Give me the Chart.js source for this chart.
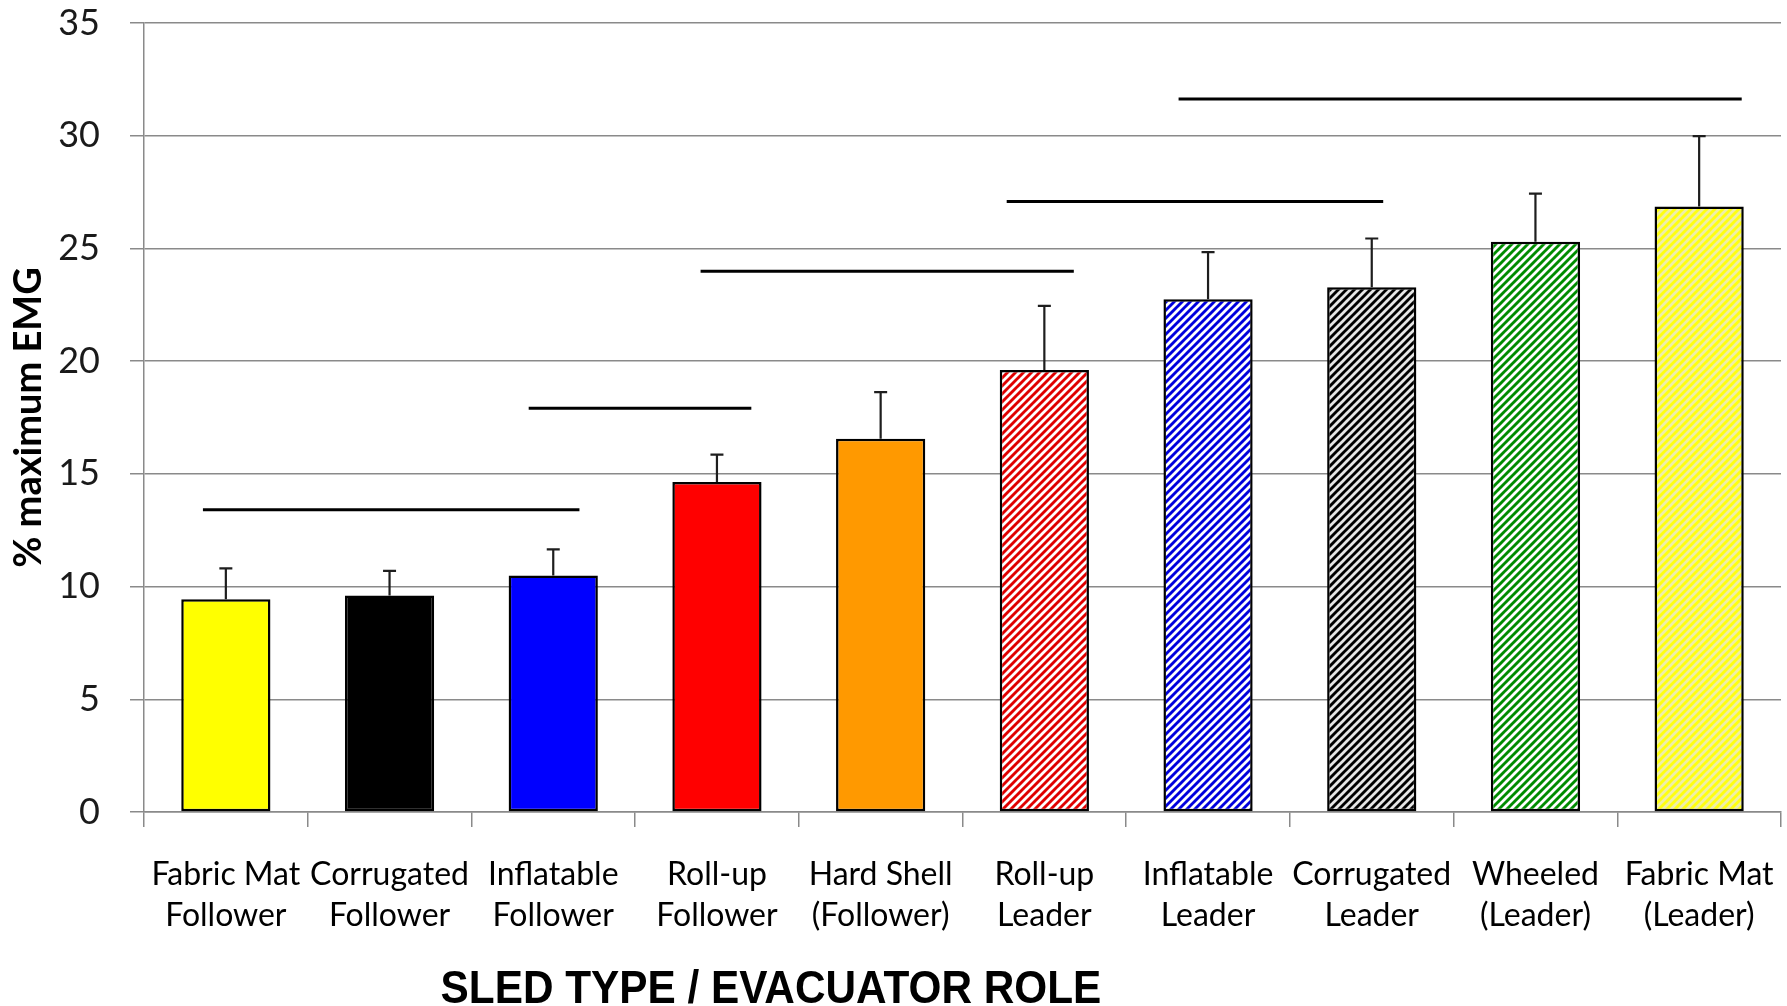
<!DOCTYPE html>
<html>
<head>
<meta charset="utf-8">
<script src="https://cdn.jsdelivr.net/npm/chart.js@4.4.1/dist/chart.umd.min.js"></script>
<style>
  html, body { margin: 0; padding: 0; background: #ffffff; }
  #wrap { width: 1787px; height: 1006px; position: relative; }
</style>
</head>
<body>
<div id="wrap"><canvas id="chart" width="1787" height="1006"></canvas></div>
<script>
// Sled type / evacuator role categories (two-line tick labels)
const categories = [
  ['Fabric Mat', 'Follower'],
  ['Corrugated', 'Follower'],
  ['Inflatable', 'Follower'],
  ['Roll-up', 'Follower'],
  ['Hard Shell', '(Follower)'],
  ['Roll-up', 'Leader'],
  ['Inflatable', 'Leader'],
  ['Corrugated', 'Leader'],
  ['Wheeled', '(Leader)'],
  ['Fabric Mat', '(Leader)']
];

// Mean % maximum EMG and its standard deviation (upper error bar)
const meanEMG = [9.44, 9.60, 10.49, 14.64, 16.56, 19.61, 22.75, 23.28, 25.30, 26.86];
const sdEMG   = [1.37, 1.10, 1.16, 1.21, 2.07, 2.84, 2.09, 2.16, 2.13, 3.12];

// Bar colours; leader bars are hatched
const baseColors   = ['#ffff00', '#000000', '#0000ff', '#ff0000', '#ff9900',
                      '#e00000', '#0000dd', '#000000', '#008c00', '#ffff10'];
const stripeColors = [null, null, null, null, null,
                      '#ffffff', '#ffffff', '#e6e6e6', '#ffffff', '#eeeeaa'];

// Y-axis ticks
const yTicks = [0, 5, 10, 15, 20, 25, 30, 35];

// Groups with no significant difference: start/end in category-index units, height in % EMG
const groupStart = [-0.14, 1.85, 2.90, 4.77, 5.82];
const groupEnd   = [2.16, 3.21, 5.18, 7.07, 9.26];
const groupLevel = [13.41, 17.91, 23.99, 27.08, 31.63];

function hatch(base, stripe) {
  if (!stripe) return base;
  const s = 8;
  const c = document.createElement('canvas');
  c.width = s; c.height = s;
  const g = c.getContext('2d');
  g.fillStyle = base;
  g.fillRect(0, 0, s, s);
  g.strokeStyle = stripe;
  g.lineWidth = 2.8;
  g.lineCap = 'square';
  g.beginPath();
  g.moveTo(-2, s + 2); g.lineTo(s + 2, -2);
  g.moveTo(-2, 2); g.lineTo(2, -2);
  g.moveTo(s - 2, s + 2); g.lineTo(s + 2, s - 2);
  g.stroke();
  return g.createPattern(c, 'repeat');
}

const fills = baseColors.map((b, i) => hatch(b, stripeColors[i]));

const errorBars = {
  id: 'errorBars',
  afterDatasetsDraw(chart) {
    const ctx = chart.ctx;
    const meta = chart.getDatasetMeta(0);
    const y = chart.scales.y;
    ctx.save();
    ctx.strokeStyle = '#1e1e1e';
    ctx.lineWidth = 2.2;
    meta.data.forEach((bar, i) => {
      const top = y.getPixelForValue(meanEMG[i]);
      const up = y.getPixelForValue(meanEMG[i] + sdEMG[i]);
      ctx.beginPath();
      ctx.moveTo(bar.x, top);
      ctx.lineTo(bar.x, up);
      ctx.moveTo(bar.x - 6.5, up);
      ctx.lineTo(bar.x + 6.5, up);
      ctx.stroke();
    });
    ctx.restore();
  }
};

const groupLines = {
  id: 'groupLines',
  afterDatasetsDraw(chart) {
    const ctx = chart.ctx;
    const x = chart.scales.x, y = chart.scales.y;
    const x0 = x.getPixelForValue(0), step = x.getPixelForValue(1) - x0;
    ctx.save();
    ctx.strokeStyle = '#000000';
    ctx.lineWidth = 3;
    groupLevel.forEach((lv, i) => {
      const py = y.getPixelForValue(lv);
      ctx.beginPath();
      ctx.moveTo(x0 + groupStart[i] * step, py);
      ctx.lineTo(x0 + groupEnd[i] * step, py);
      ctx.stroke();
    });
    ctx.restore();
  }
};

const axisTitle = {
  id: 'axisTitle',
  afterDraw(chart) {
    const ctx = chart.ctx;
    const a = chart.chartArea;
    const cx = a.left + 0.383 * (a.right - a.left);
    ctx.save();
    ctx.fillStyle = '#000000';
    ctx.font = 'bold 46px "Liberation Sans", Arial, sans-serif';
    ctx.textAlign = 'center';
    ctx.textBaseline = 'middle';
    ctx.translate(cx, chart.height - 16);
    ctx.scale(0.92, 1);
    ctx.fillText('SLED TYPE / EVACUATOR ROLE', 0, 0);
    ctx.restore();
  }
};

new Chart(document.getElementById('chart'), {
  type: 'bar',
  data: {
    labels: categories,
    datasets: [{
      data: meanEMG,
      backgroundColor: fills,
      borderColor: '#000000',
      borderWidth: 2.5,
      borderSkipped: false,
      barPercentage: 0.545,
      categoryPercentage: 1.0
    }]
  },
  options: {
    responsive: false,
    animation: false,
    layout: { padding: { top: 23, right: 6, left: 0, bottom: 0 } },
    plugins: {
      legend: { display: false },
      tooltip: { enabled: false }
    },
    scales: {
      x: {
        offset: true,
        grid: {
          offset: true,
          drawOnChartArea: false,
          drawTicks: true,
          tickLength: 15,
          color: '#8a8a8a',
          lineWidth: 1.5
        },
        border: { color: '#8a8a8a', width: 1.5 },
        ticks: {
          color: '#000000',
          padding: 27,
          maxRotation: 0,
          autoSkip: false,
          font: { family: 'Lato', size: 32, lineHeight: 1.28 }
        },
        afterFit(scale) {
          scale.height = 194;
          scale.paddingLeft = 0;
          scale.paddingRight = 0;
        }
      },
      y: {
        min: 0,
        max: 35,
        afterBuildTicks(scale) { scale.ticks = yTicks.map(v => ({ value: v })); },
        grid: {
          color: '#8a8a8a',
          lineWidth: 1.5,
          drawTicks: true,
          tickLength: 14
        },
        border: { color: '#8a8a8a', width: 1.5 },
        ticks: {
          color: '#1a1a1a',
          padding: 30,
          font: { family: 'Lato', size: 36 }
        },
        title: {
          display: true,
          text: '% maximum EMG',
          color: '#000000',
          padding: { top: 6, bottom: 0 },
          font: { family: 'Lato', size: 38, weight: 'bold', lineHeight: 1.2 }
        },
        afterFit(scale) {
          scale.width = 144;
          scale.paddingTop = 0;
          scale.paddingBottom = 0;
        }
      }
    }
  },
  plugins: [groupLines, errorBars, axisTitle]
});
</script>
</body>
</html>
